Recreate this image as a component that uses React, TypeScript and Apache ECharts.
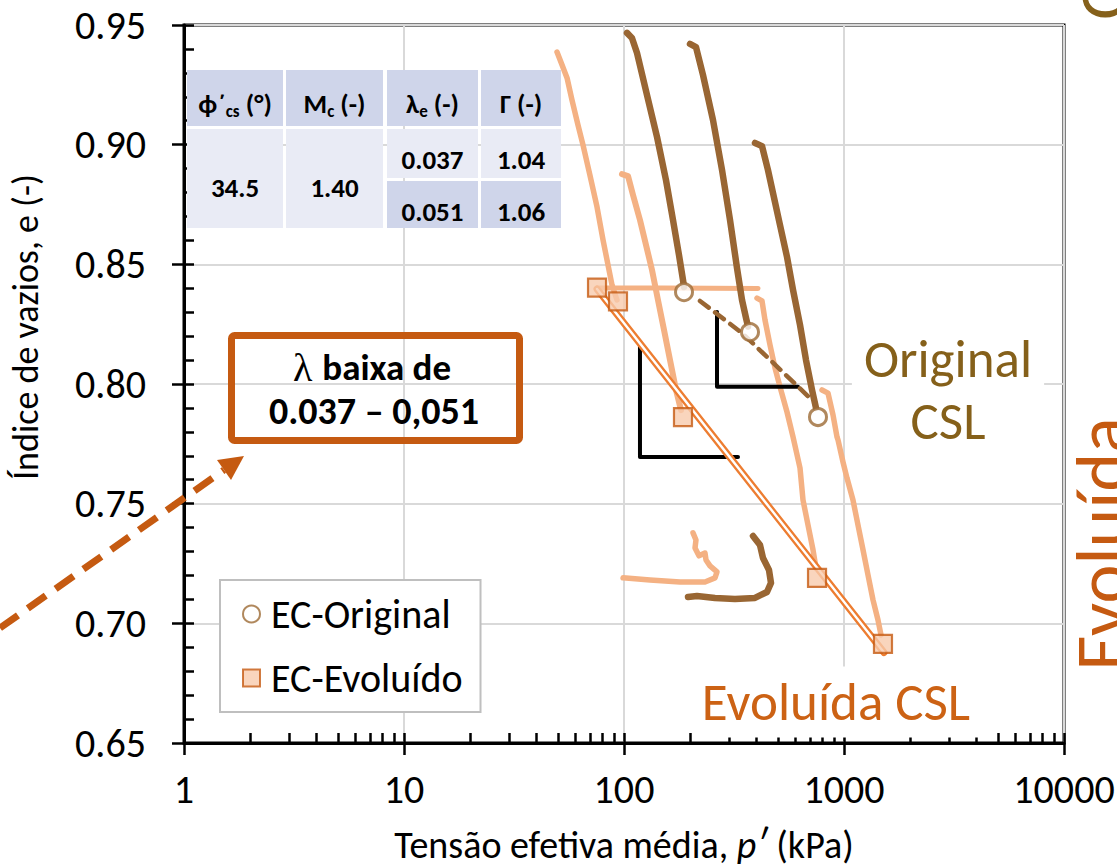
import React, { useEffect, useRef } from 'react';
import * as echarts from 'echarts';

const FONT = 'Carlito, Lato, "Open Sans", sans-serif';

// ---- axis ticks ----
const xTickValues = [1, 10, 100, 1000, 10000];
const yTickLabels = ['0.65', '0.70', '0.75', '0.80', '0.85', '0.90', '0.95'];

// ---- EC-Original compression paths [p' (kPa), e] ----
const origPath1 = [[103.2, 0.9467], [108.7, 0.9446], [114.6, 0.9383], [127.2, 0.9208], [141.3, 0.9032], [155.2, 0.8852], [167.0, 0.8685], [177.8, 0.8539], [185.4, 0.8435], [187.4, 0.8405]];
const origPath2 = [[199.5, 0.9421], [212.4, 0.9408], [228.6, 0.9291], [253.8, 0.9103], [279.0, 0.8894], [303.3, 0.8685], [326.3, 0.8485], [343.9, 0.8351], [358.6, 0.8276], [366.2, 0.8240]];
const origPath3 = [[393.9, 0.9007], [424.0, 0.8994], [451.2, 0.8894], [475.6, 0.8798], [511.9, 0.8664], [550.7, 0.8531], [586.5, 0.8393], [631.0, 0.8247], [671.9, 0.8100], [715.4, 0.7975], [746.0, 0.7900]];
const origPath4 = [[385.8, 0.7365], [415.1, 0.7327], [428.3, 0.7273], [456.1, 0.7223], [465.8, 0.7169], [446.7, 0.7131], [393.9, 0.7106], [319.5, 0.7102], [259.2, 0.7106], [214.7, 0.7114], [195.4, 0.7110]];

// ---- EC-Evoluído compression paths ----
const evoPath1 = [[49.6, 0.9387], [52.3, 0.9333], [55.1, 0.9279], [58.0, 0.9187], [61.8, 0.9082], [65.1, 0.8999], [70.0, 0.8873], [75.4, 0.8740], [80.3, 0.8602], [84.6, 0.8497], [88.2, 0.8414], [92.9, 0.8351]];
const evoPath2 = [[97.9, 0.8877], [104.3, 0.8869], [109.9, 0.8790], [118.2, 0.8685], [125.9, 0.8581], [134.1, 0.8476], [142.7, 0.8351], [152.0, 0.8226], [161.9, 0.8100], [172.4, 0.7975], [181.6, 0.7891]];
const evoPath3 = [[402.3, 0.8359], [424.0, 0.8347], [437.5, 0.8267], [461.0, 0.8163], [485.8, 0.8067], [511.9, 0.7988], [550.7, 0.7883], [586.5, 0.7779], [631.0, 0.7649], [651.1, 0.7515], [686.1, 0.7411], [723.0, 0.7307], [746.0, 0.7231]];
const evoPath4 = [[794.3, 0.7975], [845.9, 0.7962], [891.3, 0.7871], [929.4, 0.7779], [940.0, 0.7765], [989.7, 0.7674], [1031.8, 0.7607], [1098.6, 0.7515], [1157.6, 0.7411], [1220.2, 0.7307], [1285.6, 0.7202], [1354.6, 0.7098], [1427.2, 0.7014], [1473.0, 0.6951]];
const evoPath5 = [[99.0, 0.7190], [131.3, 0.7181], [179.7, 0.7173], [233.4, 0.7173], [259.2, 0.7190], [264.7, 0.7215], [246.0, 0.7240], [235.9, 0.7265], [233.4, 0.7294], [219.2, 0.7282], [210.3, 0.7315], [212.4, 0.7348], [205.9, 0.7378]];
const evoUndrained = [[75.4, 0.8401], [150.0, 0.8401], [406.6, 0.8399]];

// ---- critical state points ----
const origCS = [[187.4, 0.8384], [373.9, 0.8217], [761.7, 0.7862]];
const evoCS = [[75.4, 0.8403], [93.9, 0.8345], [185.4, 0.7862], [754.0, 0.7190], [1503.8, 0.6914]];

// ---- critical state lines ----
const origCSL = [[221.5, 0.8347], [343.9, 0.8213], [715.4, 0.7933]];
const evoCSL = [[75.4, 0.8397], [1520, 0.6878]];

// ---- slope markers ----
const slopeMark1 = [[118.2, 0.8176], [118.2, 0.7695], [329.7, 0.7695]];
const slopeMark2 = [[264.7, 0.8301], [264.7, 0.7988], [618.0, 0.7988]];

// ---- table ----
const tableHeaders = ['{b|ϕ´}{s|cs}{b| (°)}', '{b|M}{s|c}{b| (-)}', '{b|λ}{s|e}{b| (-)}', '{b|Γ (-)}'];
const phiCs = '34.5';
const mC = '1.40';
const lambdaE = ['0.037', '0.051'];
const gammaVals = ['1.04', '1.06'];

const BROWN = '#996633';
const LIGHT = '#F4B183';
const DARKOR = '#C55A11';

function line(name: string, data: number[][], color: string, width: number, z: number, type: any = 'solid') {
  return {
    type: 'line', name, data, showSymbol: false, symbol: 'none', silent: true, z,
    lineStyle: { color, width, cap: 'round', join: 'round', type },
  };
}

function buildTable() {
  const cols = [[187, 283], [286, 383], [387, 478], [481, 561]];
  const head = [70, 126];
  const r2 = [129, 178];
  const r3 = [181, 228];
  const H = '#CFD5EA';
  const L = '#E9EBF5';
  const els: any[] = [];
  const rect = (x0: number, x1: number, y0: number, y1: number, c: string) =>
    els.push({ type: 'rect', shape: { x: x0, y: y0, width: x1 - x0, height: y1 - y0 }, style: { fill: c }, z: 50 });
  const txt = (x: number, y: number, t: string) =>
    els.push({
      type: 'text', x, y, z: 51,
      style: {
        text: t, align: 'center', verticalAlign: 'middle', fill: '#000',
        fontFamily: FONT, fontSize: 27, fontWeight: 'bold',
        rich: {
          b: { fontFamily: FONT, fontSize: 27, fontWeight: 'bold', fill: '#000', lineHeight: 34 },
          s: { fontFamily: FONT, fontSize: 17, fontWeight: 'bold', fill: '#000', lineHeight: 19, verticalAlign: 'bottom' },
        },
      },
    });
  cols.forEach((c) => rect(c[0], c[1], head[0], head[1], H));
  rect(cols[0][0], cols[0][1], r2[0], r3[1], L);
  rect(cols[1][0], cols[1][1], r2[0], r3[1], L);
  rect(cols[2][0], cols[2][1], r2[0], r2[1], L);
  rect(cols[3][0], cols[3][1], r2[0], r2[1], L);
  rect(cols[2][0], cols[2][1], r3[0], r3[1], H);
  rect(cols[3][0], cols[3][1], r3[0], r3[1], H);
  tableHeaders.forEach((h, i) => txt((cols[i][0] + cols[i][1]) / 2, 103, h));
  txt((cols[0][0] + cols[0][1]) / 2, 187, '{b|' + phiCs + '}');
  txt((cols[1][0] + cols[1][1]) / 2, 187, '{b|' + mC + '}');
  txt((cols[2][0] + cols[2][1]) / 2, 159, '{b|' + lambdaE[0] + '}');
  txt((cols[3][0] + cols[3][1]) / 2, 159, '{b|' + gammaVals[0] + '}');
  txt((cols[2][0] + cols[2][1]) / 2, 211, '{b|' + lambdaE[1] + '}');
  txt((cols[3][0] + cols[3][1]) / 2, 211, '{b|' + gammaVals[1] + '}');
  return els;
}

export default function App() {
  const ref = useRef<HTMLDivElement>(null);
  useEffect(() => {
    document.body.style.margin = '0';
    const chart = echarts.init(ref.current as HTMLDivElement, null, { renderer: 'svg' });
    const axisBlack = { color: '#000', width: 3 };
    const option: any = {
      animation: false,
      backgroundColor: '#fff',
      grid: { left: 184, top: 25, width: 880, height: 718, show: true, borderColor: '#000', borderWidth: 3, outerBoundsMode: 'none' },
      xAxis: [
        {
          type: 'log', logBase: 10, min: xTickValues[0], max: xTickValues[xTickValues.length - 1], position: 'bottom',
          axisLine: { lineStyle: axisBlack },
          axisTick: { show: true, inside: false, length: 12, lineStyle: { color: '#000', width: 2.5 } },
          axisLabel: { color: '#000', fontSize: 40, fontFamily: FONT, margin: 26, formatter: (v: number) => String(Math.round(v)) },
          splitLine: { show: true, lineStyle: { color: '#D9D9D9', width: 2 } },
        },
        {
          type: 'log', logBase: 10, min: xTickValues[0], max: xTickValues[xTickValues.length - 1], position: 'bottom',
          axisLine: { show: false },
          axisTick: { show: true, inside: true, length: 10, lineStyle: { color: '#000', width: 2.5 } },
          minorTick: { show: true, splitNumber: 9, length: 10, lineStyle: { color: '#000', width: 2.5 } },
          axisLabel: { show: false },
          splitLine: { show: false },
        },
      ],
      yAxis: [
        {
          type: 'value', min: 0.65, max: 0.95, interval: 0.05, position: 'left',
          axisLine: { lineStyle: axisBlack },
          axisTick: { show: true, inside: false, length: 12, lineStyle: { color: '#000', width: 2.5 } },
          axisLabel: {
            color: '#000', fontSize: 40, fontFamily: FONT, margin: 38,
            formatter: (v: number) => yTickLabels[Math.round((v - 0.65) / 0.05)] ?? v.toFixed(2),
          },
          splitLine: { show: true, lineStyle: { color: '#D9D9D9', width: 2 } },
        },
        {
          type: 'value', min: 0.65, max: 0.95, interval: 0.05, position: 'left', offset: 0,
          axisLine: { show: false },
          axisTick: { show: true, inside: true, length: 10, lineStyle: { color: '#000', width: 2.5 } },
          minorTick: { show: true, splitNumber: 5, length: 10, lineStyle: { color: '#000', width: 2.5 } },
          axisLabel: { show: false },
          splitLine: { show: false },
        },
      ],
      legend: {
        left: 220, top: 580, orient: 'vertical',
        data: [{ name: 'EC-Original', icon: 'circle' }, { name: 'EC-Evoluído', icon: 'rect' }],
        itemWidth: 17, itemHeight: 17, itemGap: 24,
        padding: [14, 18, 14, 22],
        backgroundColor: '#fff', borderColor: '#BFBFBF', borderWidth: 2, borderRadius: 0,
        textStyle: { fontSize: 40, fontFamily: FONT, color: '#000', padding: [0, 0, 0, 6] },
        selectedMode: false,
      },
      series: [
        line('e1', evoPath1, LIGHT, 5.5, 3),
        line('e2', evoPath2, LIGHT, 6, 3),
        line('e3', evoPath3, LIGHT, 5.5, 3),
        line('e4', evoPath4, LIGHT, 5.5, 3),
        line('e5', evoPath5, LIGHT, 5.5, 3),
        line('eu', evoUndrained, LIGHT, 5, 3),
        line('o1', origPath1, BROWN, 6.5, 4),
        line('o2', origPath2, BROWN, 6.5, 4),
        line('o3', origPath3, BROWN, 6.5, 4),
        line('o4', origPath4, BROWN, 6.5, 4),
        line('s1', slopeMark1, '#000', 4, 5),
        line('s2', slopeMark2, '#000', 4, 5),
        line('ocsl', origCSL, BROWN, 4.5, 6, [11, 8]),
        line('ecsl', evoCSL, '#ED7D31', 7, 6),
        line('ecsl2', evoCSL, '#fff', 2.4, 7),
        {
          type: 'scatter', name: 'EC-Original', data: origCS, symbol: 'circle', symbolSize: 17, z: 10,
          itemStyle: { color: '#fff', borderColor: '#9C6A35', borderWidth: 3 },
        },
        {
          type: 'scatter', name: 'EC-Evoluído', data: evoCS, symbol: 'rect', symbolSize: 18, z: 10,
          itemStyle: { color: '#F8CBAD', borderColor: DARKOR, borderWidth: 2.2 },
        },
      ],
      graphic: [
        ...buildTable(),
        {
          type: 'text', x: 26, y: 327, rotation: Math.PI / 2, z: 60,
          style: { text: 'Índice de vazios, e (-)', fontSize: 36, fontFamily: FONT, fill: '#000', align: 'center', verticalAlign: 'middle' },
        },
        {
          type: 'text', x: 624, y: 845, z: 60,
          style: {
            text: 'Tensão efetiva média, {i|p′} (kPa)', fontSize: 38, fontFamily: FONT, fill: '#000', align: 'center', verticalAlign: 'middle',
            rich: { i: { fontSize: 38, fontFamily: FONT, fontStyle: 'italic', fill: '#000' } },
          },
        },
        {
          type: 'rect', z: 60,
          shape: { x: 231.5, y: 335.5, width: 288, height: 105, r: 3 },
          style: { fill: 'none', stroke: DARKOR, lineWidth: 7 },
        },
        {
          type: 'text', x: 372, y: 367, z: 61,
          style: {
            text: '{l|λ}{b|baixa de}', align: 'center', verticalAlign: 'middle', fill: '#000',
            rich: {
              l: { fontFamily: '"Liberation Serif", "DejaVu Serif", serif', fontSize: 40, fill: '#000', padding: [0, 10, 0, 0] },
              b: { fontFamily: FONT, fontSize: 37, fontWeight: 'bold', fill: '#000' },
            },
          },
        },
        {
          type: 'text', x: 374, y: 411, z: 61,
          style: { text: '0.037 – 0,051', align: 'center', verticalAlign: 'middle', fill: '#000', fontFamily: FONT, fontSize: 38, fontWeight: 'bold' },
        },
        {
          type: 'line', z: 60,
          shape: { x1: 0, y1: 628, x2: 224, y2: 470 },
          style: { stroke: DARKOR, lineWidth: 7, lineDash: [22, 12] },
        },
        {
          type: 'polygon', z: 60,
          shape: { points: [[244, 456], [231, 480], [217, 460]] },
          style: { fill: DARKOR },
        },
        {
          type: 'text', x: 948, y: 390, z: 60,
          style: {
            text: 'Original\nCSL', align: 'center', verticalAlign: 'middle', fill: '#85601A',
            fontFamily: FONT, fontSize: 53, lineHeight: 62, backgroundColor: '#fff', padding: [0, 12, 0, 12],
          },
        },
        {
          type: 'text', x: 836, y: 702, z: 60,
          style: {
            text: 'Evoluída CSL', align: 'center', verticalAlign: 'middle', fill: '#CC6214',
            fontFamily: FONT, fontSize: 53, backgroundColor: '#fff', padding: [10, 8, 8, 8],
          },
        },
        {
          type: 'text', x: 1102, y: 544, rotation: Math.PI / 2, z: 60,
          style: { text: 'Evoluída', align: 'center', verticalAlign: 'middle', fill: DARKOR, fontFamily: FONT, fontSize: 74 },
        },
        {
          type: 'text', x: 1104, y: 20, rotation: Math.PI / 2, z: 60,
          style: { text: 'Original CSL', align: 'left', verticalAlign: 'middle', fill: '#85601A', fontFamily: FONT, fontSize: 70 },
        },
      ],
    };
    chart.setOption(option);
    return () => chart.dispose();
  }, []);
  return <div ref={ref} style={{ width: 1117, height: 867 }} />;
}
